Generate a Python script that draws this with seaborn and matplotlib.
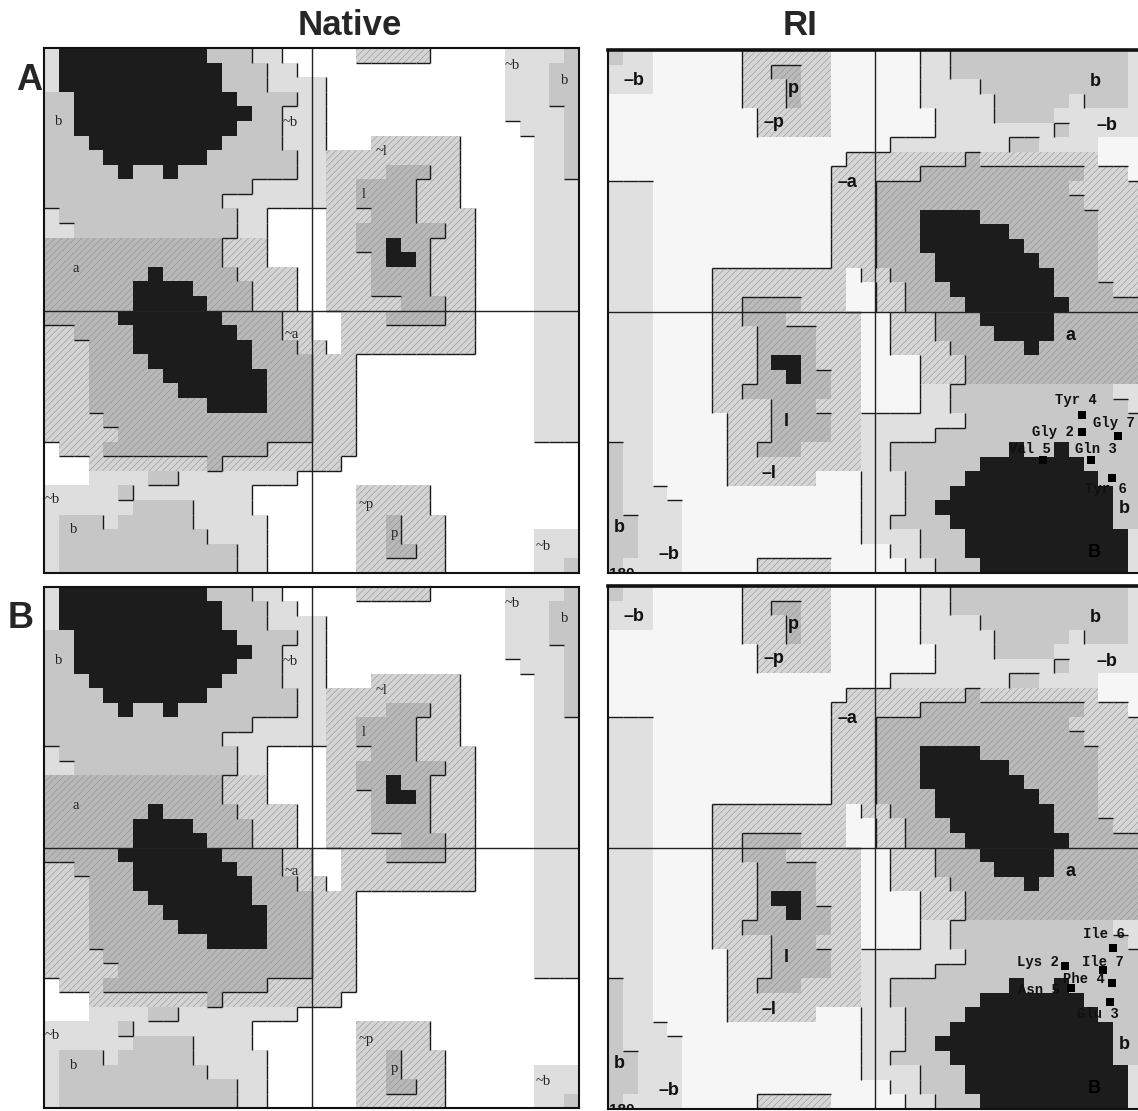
import numpy as np
import matplotlib
matplotlib.use("Agg")
import matplotlib.pyplot as plt
from matplotlib.colors import ListedColormap
from matplotlib.collections import PolyCollection
import seaborn as sns

# ---------------------------------------------------------------------------
# Ramachandran region map in 10-degree cells.
# Rows run psi 180 -> -180 (top to bottom), columns phi -180 -> 180.
# '.' disallowed, 'g' generous (~b), 'h' generous (~a ~l ~p),
# 'm' allowed (b), 'n' allowed (a l p), 'k' core (A B L)
# ---------------------------------------------------------------------------
native_map = [
    "gkkkkkkkkkkmmmgg.....hhhhh.....ggggm",
    "gkkkkkkkkkkkmmmgg..............gggmm",
    "gkkkkkkkkkkkmmmgggg............gggmm",
    "mmkkkkkkkkkkkmmmmgg............gggmm",
    "mmkkkkkkkkkkkkmmggg............ggggm",
    "mmkkkkkkkkkkkmmmggg.............gggm",
    "mmmkkkkkkkkkmmmmggg...hhhhhh.....ggm",
    "mmmmkkkkkkkmmmmmmgghhhhhhhhh.....ggm",
    "mmmmmkmmkmmmmmmmmgghhhhnnnhh.....ggm",
    "mmmmmmmmmmmmmmggggghhnnnnhhh.....ggg",
    "mmmmmmmmmmmmggggggghhnnnnhhh.....ggg",
    "gmmmmmmmmmmmmgg....hhhnnnhhhh....ggg",
    "ggmmmmmmmmmmmgg....hhnnnnnnhh....ggg",
    "nnnnnnnnnnnnhhh....hhnnknnhhh....ggg",
    "nnnnnnnnnnnnhhh....hhhnkknhhh....ggg",
    "nnnnnnnknnnnnhhhh..hhhnnnnhhh....ggg",
    "nnnnnnkkkknnnnhhh..hhhnnnnhhh....ggg",
    "nnnnnnkkkkknnnhhh..hhhhhnnnhh....ggg",
    "nnnnnkkkkkkknnnnhh..hhhnnnnhh....ggg",
    "hhnnnnkkkkkkknnnhh..hhhhhhhhh....ggg",
    "hhhnnnkkkkkkkknnnhh.hhhhhhhhh....ggg",
    "hhhnnnnkkkkkkknnnnhhh............ggg",
    "hhhnnnnnkkkkkkknnnhhh............ggg",
    "hhhnnnnnnkkkkkknnnhhh............ggg",
    "hhhnnnnnnnnkkkknnnhhh............ggg",
    "hhhhnnnnnnnnnnnnnnhhh............ggg",
    "hhhhhnnnnnnnnnnnnnhhh............ggg",
    ".hhhnnnnnnnnnnnhhhhhh...............",
    "...hhhhhhhhnhhhhhhhh................",
    "...ggggmmgggggggg...................",
    "gggggmgggggggg.......hhhhh..........",
    "ggggggmmmmgggg.......hhhhh..........",
    "gmmmgmmmmmggggg......hhnhhh.........",
    "gmmmmmmmmmmgggg......hhnhhh......ggg",
    "gmmmmmmmmmmmmgg......hhnnhh......ggg",
    "gmmmmmmmmmmmmgg......hhhhhh......ggm",
]

region_symbols = [".", "g", "h", "m", "n", "k"]
region_level = [0, 1, 1, 2, 2, 3]
hatched_symbols = ["h", "n"]

# Region labels (phi, psi in degrees)
native_labels = ["b", "~b", "~b", "b", "~l", "l", "a", "~a", "~b", "b", "~p", "p", "~b"]
native_label_phi = [-169.9, -14.5, 134.9, 170.6, 46.8, 35.3, -158.5, -13.1, -174.6, -159.8, 36.7, 55.5, 155.8]
native_label_psi = [129.3, 128.6, 168.3, 158.0, 108.7, 79.2, 29.1, -16.8, -129.9, -150.5, -132.7, -152.6, -161.5]

ri_labels = ["\u2013b", "p", "\u2013p", "b", "\u2013b", "\u2013a", "a", "l", "\u2013l", "b", "\u2013b", "b", "B"]
ri_label_phi = [-162.5, -55.2, -68.3, 147.7, 155.6, -19.2, 131.2, -60.0, -72.0, -172.6, -139.0, 167.5, 147.0]
ri_label_psi = [159.3, 153.8, 129.8, 158.0, 127.7, 89.1, -16.2, -75.9, -111.4, -149.0, -167.6, -135.3, -166.2]

# Residue backbone angles of the retro-inverso peptides
ri_a_residues = ["Gly 2", "Gln 3", "Tyr 4", "Val 5", "Tyr 6", "Gly 7"]
ri_a_phi = [138.8, 145.0, 138.8, 112.7, 158.9, 163.4]
ri_a_psi = [-83.2, -102.2, -71.2, -102.2, -114.8, -85.7]

ri_b_residues = ["Lys 2", "Glu 3", "Phe 4", "Asn 5", "Ile 6", "Ile 7"]
ri_b_phi = [127.3, 157.9, 159.1, 131.6, 159.6, 153.2]
ri_b_psi = [-81.4, -106.2, -93.3, -96.8, -69.4, -84.1]

# label placement (pixel offsets from the point, horizontal alignment)
ri_a_offsets = [(-8, 0, "right"), (5, 11, "center"), (-6, 15, "center"),
                (-13, 11, "center"), (15, -11, "right"), (-4, 13, "center")]
ri_b_offsets = [(-6, 4, "right"), (-12, -12, "center"), (-7, 4, "right"),
                (-11, -2, "right"), (-9, 14, "center"), (0, 8, "center")]

# ---------------------------------------------------------------------------
sns.set_style("white")
plt.rcParams["font.family"] = ["Liberation Sans", "DejaVu Sans"]
plt.rcParams["hatch.linewidth"] = 0.35
plt.rcParams["hatch.color"] = "#8a8a8a"

W, H = 1138, 1111
fig = plt.figure(figsize=(W / 100, H / 100), dpi=100)

native_colors = ["#ffffff", "#dedede", "#d4d4d4", "#c6c6c6", "#b8b8b8", "#1c1c1c"]
ri_colors = ["#f6f6f6", "#e0e0e0", "#d6d6d6", "#c8c8c8", "#bababa", "#1c1c1c"]

char_grid = np.array([list(row) for row in native_map])
assert char_grid.shape == (36, 36)


def px_axes(x, y, w, h):
    return fig.add_axes([x / W, 1 - (y + h) / H, w / W, h / H])


def boundary_segments(levels):
    """Edges drawn on the bottom/right side of a shaded cell that borders a lower level."""
    nr, nc = levels.shape
    hseg, vseg = [], []
    for r in range(nr):
        for c in range(nc):
            lv = levels[r, c]
            if lv in (0, 3):
                continue
            if r + 1 < nr and levels[r + 1, c] < lv:
                hseg.append((r + 1, c, c + 1))
            if c + 1 < nc and levels[r, c + 1] < lv:
                vseg.append((c + 1, r, r + 1))
    return hseg, vseg


def draw_map(ax, chars, colors, rotate, top_lw):
    codes = np.vectorize(region_symbols.index)(chars)
    levels = np.array(region_level)[codes]
    hseg, vseg = boundary_segments(levels)
    if rotate:
        codes = codes[::-1, ::-1]
        chars = chars[::-1, ::-1]
        hseg = [(36 - y, 36 - x1, 36 - x0) for (y, x0, x1) in hseg]
        vseg = [(36 - x, 36 - y1, 36 - y0) for (x, y0, y1) in vseg]
    sns.heatmap(codes, ax=ax, cmap=ListedColormap(colors), vmin=-0.5, vmax=5.5,
                cbar=False, xticklabels=False, yticklabels=False, linewidths=0)
    rows, cols = np.nonzero(np.isin(chars, hatched_symbols))
    verts = [[(c, r), (c + 1, r), (c + 1, r + 1), (c, r + 1)] for r, c in zip(rows, cols)]
    coll = PolyCollection(verts, facecolors="none", edgecolors="#8a8a8a",
                          linewidths=0, hatch="/////")
    ax.add_collection(coll)
    if hseg:
        ax.hlines([s[0] for s in hseg], [s[1] for s in hseg], [s[2] for s in hseg],
                  color="#1a1a1a", lw=1.0, zorder=3)
    if vseg:
        ax.vlines([s[0] for s in vseg], [s[1] for s in vseg], [s[2] for s in vseg],
                  color="#1a1a1a", lw=1.0, zorder=3)
    ax.set_xlim(0, 36)
    ax.set_ylim(36, 0)

    ov = ax.inset_axes([0, 0, 1, 1])
    ov.set_xlim(-180, 180)
    ov.set_ylim(-180, 180)
    ov.patch.set_alpha(0)
    ov.set_xticks([])
    ov.set_yticks([])
    for sp in ov.spines.values():
        sp.set_visible(True)
        sp.set_linewidth(1.5)
        sp.set_color("#111111")
    ov.spines["top"].set_linewidth(top_lw)
    ov.axvline(0, color="#222222", lw=1.0)
    ov.axhline(0, color="#222222", lw=1.0)
    return ov


def native_panel(rect):
    ax = px_axes(*rect)
    ov = draw_map(ax, char_grid, native_colors, rotate=False, top_lw=1.5)
    for t, x, y in zip(native_labels, native_label_phi, native_label_psi):
        ov.text(x, y, t, ha="center", va="center", fontsize=10.5,
                family=["Liberation Serif", "DejaVu Serif"], color="#222222")
    return ov


def ri_panel(rect, residues, phis, psis, offsets):
    ax = px_axes(*rect)
    ov = draw_map(ax, char_grid, ri_colors, rotate=True, top_lw=2.6)
    for t, x, y in zip(ri_labels, ri_label_phi, ri_label_psi):
        ov.text(x, y, t, ha="center", va="center", fontsize=13, fontweight="bold",
                color="#000000" if t == "B" else "#111111")
    ov.text(-179, -175.9, "180", ha="left", va="top", fontsize=11,
            fontweight="bold", color="#111111", clip_on=True)
    sns.scatterplot(x=phis, y=psis, ax=ov, marker="s", s=38, color="black",
                    linewidth=0, legend=False, zorder=5)
    ov.set_xlim(-180, 180)
    ov.set_ylim(-180, 180)
    for name, x, y, (dx, dy, ha) in zip(residues, phis, psis, offsets):
        ov.annotate(name, (x, y), xytext=(dx, dy), textcoords="offset pixels",
                    ha=ha, va="center", fontsize=10, fontweight="bold",
                    family=["Liberation Mono", "DejaVu Sans Mono"], color="#111111",
                    zorder=6)
    return ov


native_panel((44, 48, 535, 525))
ri_panel((608, 50, 535, 523), ri_a_residues, ri_a_phi, ri_a_psi, ri_a_offsets)
native_panel((44, 587, 535, 521))
ri_panel((608, 586, 535, 523), ri_b_residues, ri_b_phi, ri_b_psi, ri_b_offsets)

fig.text(350 / W, 1 - 25.5 / H, "Native", ha="center", va="center",
         fontsize=25, fontweight="bold")
fig.text(800 / W, 1 - 25.5 / H, "RI", ha="center", va="center",
         fontsize=25, fontweight="bold")
fig.text(29.5 / W, 1 - 80 / H, "A", ha="center", va="center",
         fontsize=26, fontweight="bold")
fig.text(21 / W, 1 - 618 / H, "B", ha="center", va="center",
         fontsize=26, fontweight="bold")

fig.savefig("out.png", dpi=100, facecolor="white")
